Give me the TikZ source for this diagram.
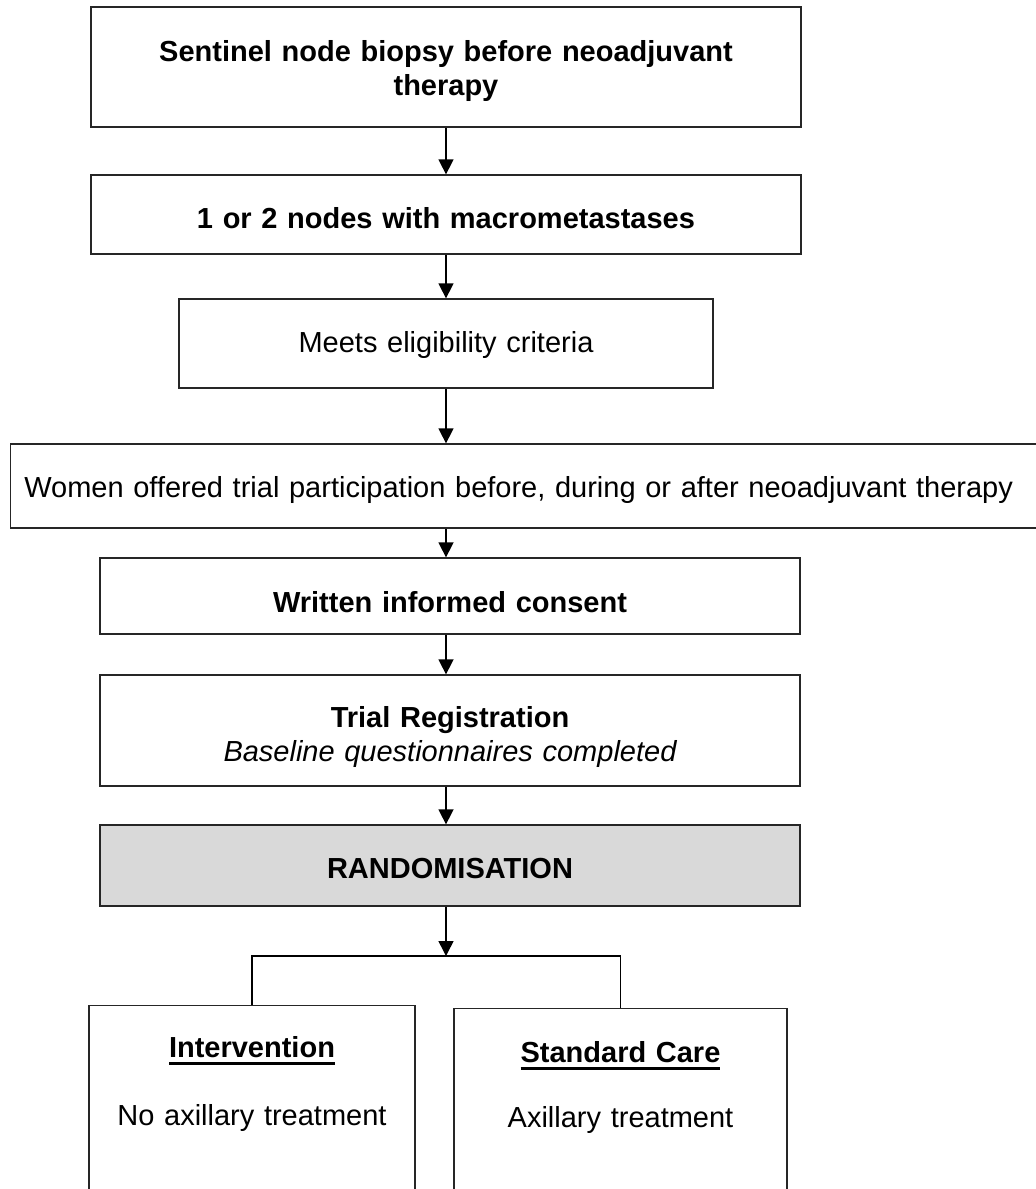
\documentclass[tikz,border=0pt]{standalone}
\usepackage{fontspec}
\setmainfont{Liberation Sans}
\usetikzlibrary{arrows.meta}
\pgfdeclarelayer{edgelayer}
\pgfdeclarelayer{nodelayer}
\pgfsetlayers{edgelayer,nodelayer,main}
\definecolor{randgrey}{HTML}{D9D9D9}
\newcommand{\headline}[1]{\setbox0\hbox{#1}\rlap{\copy0}\rule[-7pt]{\wd0}{3pt}}
\tikzset{font=\fontsize{29pt}{34pt}\selectfont}
\tikzstyle{box}=[draw=black!85,line width=1.3pt,inner sep=0pt,align=center]
\tikzstyle{grey box}=[box,fill=randgrey]
\tikzstyle{flow}=[draw,line width=1.5pt,-{Triangle[length=15pt,width=15pt]}]
\tikzstyle{link}=[draw,line width=1.3pt]

\begin{document}
\begin{tikzpicture}[x=1pt,y=-1pt]
	\useasboundingbox (0,0) rectangle (1036,1189);
	\begin{pgfonlayer}{nodelayer}
		\node [style=box, text width=710pt, minimum height=120pt, text height=0pt, text depth=12pt] (0) at (446, 67) {\bfseries Sentinel node biopsy before neoadjuvant\\therapy};
		\node [style=box, text width=710pt, minimum height=79pt, text height=27pt, text depth=0pt] (1) at (446, 214.5) {\bfseries 1 or 2 nodes with macrometastases};
		\node [style=box, text width=534pt, minimum height=89pt, text height=17pt, text depth=0pt] (2) at (446, 343.5) {Meets eligibility criteria};
		\node [style=box, anchor=west, align=left, text width=1060pt, minimum height=84pt, text height=22pt, text depth=0pt] (3) at (10, 486) {\makebox[1016pt]{Women offered trial participation before, during or after neoadjuvant therapy}};
		\node [style=box, text width=700pt, minimum height=76pt, text height=32pt, text depth=0pt] (4) at (450, 596) {\bfseries Written informed consent};
		\node [style=box, text width=700pt, minimum height=111pt, text height=0pt, text depth=7pt] (5) at (450, 730.5) {\bfseries Trial Registration\\\mdseries\itshape Baseline questionnaires completed};
		\node [style=grey box, text width=700pt, minimum height=81pt, text height=25pt, text depth=0pt] (6) at (450, 865.5) {\bfseries RANDOMISATION};
		\node [style=box, anchor=north, text width=326pt, text height=52pt, text depth=250pt] (7) at (252, 1005) {\headline{\bfseries Intervention}\\[34pt]No axillary treatment};
		\node [style=box, anchor=north, text width=333pt, text height=54pt, text depth=250pt] (8) at (620.5, 1008) {\headline{\bfseries Standard Care}\\[31pt]Axillary treatment};
		\coordinate (9) at (446, 956);
	\end{pgfonlayer}
	\begin{pgfonlayer}{edgelayer}
		\draw [style=flow] (0) to (1);
		\draw [style=flow] (1) to (2);
		\draw [style=flow] (2) to (2.south |- 3.north);
		\draw [style=flow] (3.south -| 2.south) to (4.north -| 2.south);
		\draw [style=flow] (4.south -| 2.south) to (5.north -| 2.south);
		\draw [style=flow] (5.south -| 2.south) to (6.north -| 2.south);
		\draw [style=flow] (6.south -| 2.south) to (9);
		\draw [style=link] (7.north) |- (9) -| (8.north);
	\end{pgfonlayer}
\end{tikzpicture}
\end{document}
